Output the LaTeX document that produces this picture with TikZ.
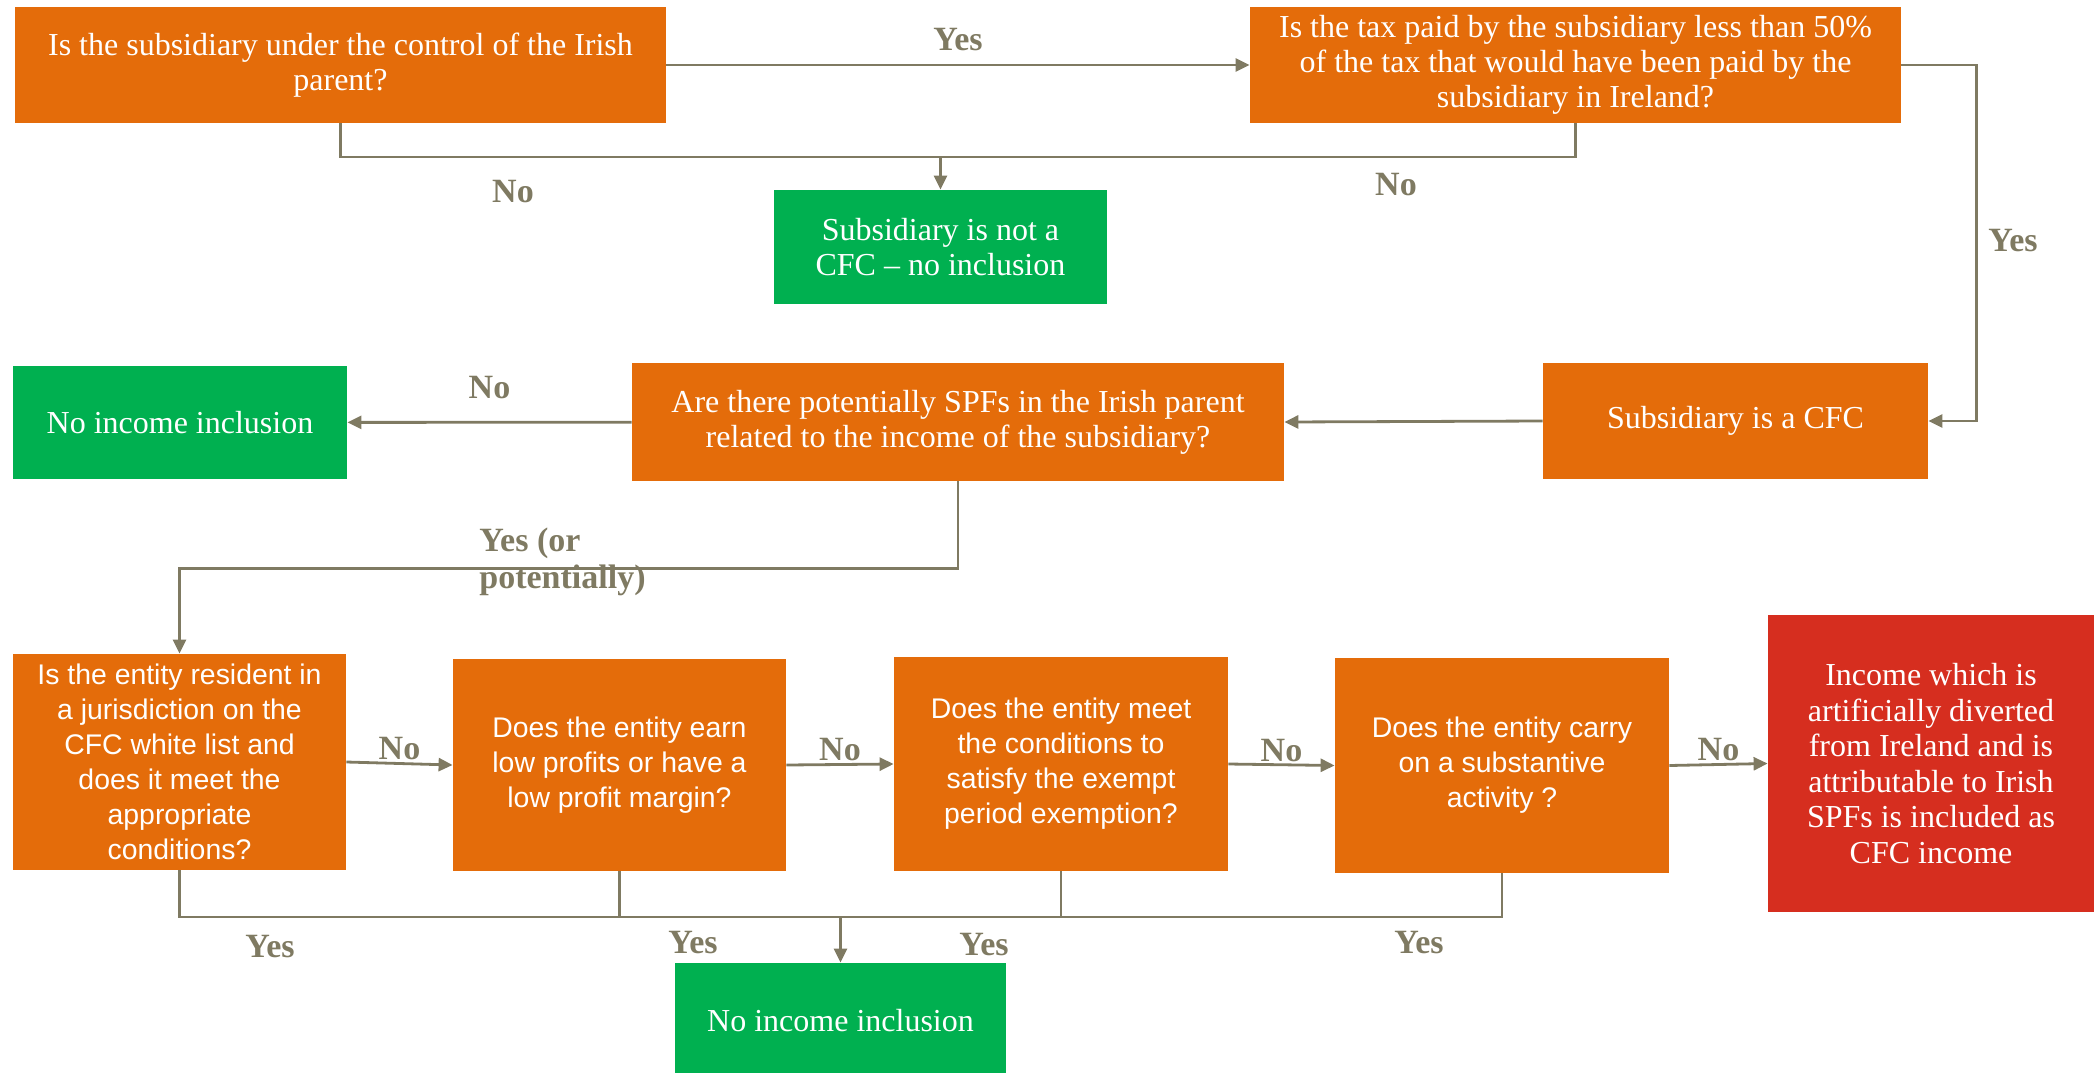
\documentclass[tikz,border=0pt]{standalone}
\usepackage{fontspec}
\setmainfont{Liberation Serif}
\newfontfamily\arialfont{Liberation Sans}
\usetikzlibrary{arrows.meta}

\definecolor{cfcorange}{HTML}{E46C0A}
\definecolor{cfcgreen}{HTML}{00B050}
\definecolor{cfcred}{HTML}{D62E1F}
\definecolor{flowline}{HTML}{7F7A62}

\begin{document}
\begin{tikzpicture}[x=0.5pt,y=-0.5pt,>={Triangle[length=7pt,width=6.5pt]},
    box/.style={rectangle,inner sep=0pt,text=white,align=center,font=\fontsize{16}{17.5}\selectfont},
    question/.style={box,fill=cfcorange},
    sansquestion/.style={question,font=\arialfont\fontsize{14.2}{17.5}\selectfont},
    outcome/.style={box,fill=cfcgreen},
    result/.style={box,fill=cfcred,font=\fontsize{16}{17.8}\selectfont},
    flow/.style={draw=flowline,line width=1.4pt},
    answer/.style={text=flowline,inner sep=1pt,font=\bfseries\fontsize{17}{18.5}\selectfont}]
                % Page
                \useasboundingbox (0,0) rectangle (2095,1072);

                % Control and tax tests
                \node[question,minimum width=325.5pt,minimum height=58pt] (control) at (340.5,65)
                    {Is the subsidiary under the control of the Irish\\parent?};
                \node[question,minimum width=325.5pt,minimum height=58pt] (taxtest) at (1575.5,65)
                    {Is the tax paid by the subsidiary less than 50\%\\of the tax that would have been paid by the\\subsidiary in Ireland?};
                \node[outcome,minimum width=166.5pt,minimum height=57pt] (notcfc) at (940.5,247)
                    {Subsidiary is not a\\CFC -- no inclusion};

                % CFC and SPF test
                \node[question,minimum width=192.5pt,minimum height=58pt] (iscfc) at (1735.5,421) {Subsidiary is a CFC};
                \node[question,minimum width=326pt,minimum height=59pt] (spf) at (958,422)
                    {Are there potentially SPFs in the Irish parent\\related to the income of the subsidiary?};
                \node[outcome,minimum width=167pt,minimum height=56.5pt] (noinc) at (180,422.5) {No income inclusion};

                % Exemptions
                \node[sansquestion,minimum width=166.5pt,minimum height=108pt] (whitelist) at (179.5,762)
                    {Is the entity resident in\\a jurisdiction on the\\CFC white list and\\does it meet the\\appropriate\\conditions?};
                \node[sansquestion,minimum width=166.5pt,minimum height=106pt] (lowprofit) at (619.5,765)
                    {Does the entity earn\\low profits or have a\\low profit margin?};
                \node[sansquestion,minimum width=167pt,minimum height=107pt] (exempt) at (1061,764)
                    {Does the entity meet\\the conditions to\\satisfy the exempt\\period exemption?};
                \node[sansquestion,minimum width=167pt,minimum height=107.5pt] (activity) at (1502,765.5)
                    {Does the entity carry\\on a substantive\\activity ?};
                \node[result,minimum width=163pt,minimum height=148.5pt] (included) at (1931,763.5)
                    {Income which is\\artificially diverted\\from Ireland and is\\attributable to Irish\\SPFs is included as\\CFC income};
                \node[outcome,minimum width=165.5pt,minimum height=58pt] (noincbottom) at (840.5,1021) {No income inclusion};

                % Connectors, first row
                \draw[flow,->] (control) -- node[answer,above=5.5pt] {Yes} (taxtest);
                \coordinate (notjoin) at (940.5,157);
                \draw[flow] (control.south) |- (notjoin) -| (taxtest.south);
                \draw[flow,->] (notjoin) -- (notcfc);
                \node[answer] (nocontrol) at (513,192) {No};
                \node[answer] (notax) at (1396,185) {No};
                \draw[flow,->] (taxtest.east) -- ++(75,0) |- (iscfc.east);
                \node[answer] (yestax) at (2013,241) {Yes};

                % Connectors, second row
                \draw[flow,->] (iscfc.west) -- (spf.east);
                \draw[flow,->] (spf) -- node[answer,above=10pt] {No} (noinc);
                \draw[flow,->] (spf.south) -- ++(0,87) -| (whitelist.north);
                \node[answer,anchor=west,align=left] (yesspf) at (477,562) {Yes (or\\potentially)};

                % Connectors, third row
                \draw[flow,->] (whitelist.east) -- node[answer,above] {No} (lowprofit.west);
                \draw[flow,->] (lowprofit.east) -- node[answer,above] {No} (exempt.west);
                \draw[flow,->] (exempt.east) -- node[answer,above] {No} (activity.west);
                \draw[flow,->] (activity.east) -- node[answer,above] {No} (included.west);
                \coordinate (yesjoin) at (840.5,917);
                \draw[flow] (whitelist.south) |- (yesjoin) -| (activity.south);
                \draw[flow] (lowprofit.south) -- (lowprofit.south |- yesjoin);
                \draw[flow] (exempt.south) -- (exempt.south |- yesjoin);
                \draw[flow,->] (yesjoin) -- (noincbottom);
                \node[answer] (yeswhite) at (270,947) {Yes};
                \node[answer] (yesprofit) at (693,943) {Yes};
                \node[answer] (yesexempt) at (984,945) {Yes};
                \node[answer] (yesactivity) at (1419,943) {Yes};
\end{tikzpicture}
\end{document}
